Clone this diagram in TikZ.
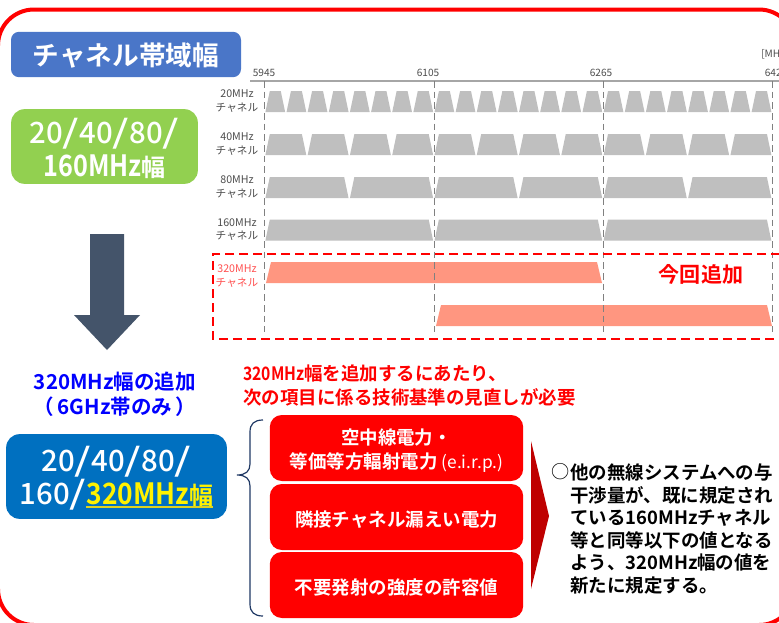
\documentclass[tikz,border=0pt]{standalone}
\usepackage{fontspec}
\setmainfont{Noto Sans CJK JP}[BoldFont={Noto Sans CJK JP Bold}]
\newfontfamily\medfont{Noto Sans CJK JP Medium}
\newfontfamily\heavyfont{Noto Sans CJK JP Bold}
\usetikzlibrary{calc}
\definecolor{framered}{HTML}{FF0000}
\definecolor{titleblue}{HTML}{4A76C8}
\definecolor{bandgreen}{HTML}{92D050}
\definecolor{bandblue}{HTML}{0070C0}
\definecolor{arrowslate}{HTML}{44546A}
\definecolor{changray}{HTML}{BFBFBF}
\definecolor{chanpink}{HTML}{FF9680}
\definecolor{bracenavy}{HTML}{1F3864}
\definecolor{newlabel}{HTML}{FF5050}
\newcommand{\bslash}{\scalebox{1.45}[1.08]{/}}
\newcommand{\nrw}[1]{\scalebox{0.85}[1]{#1}}
\newcommand{\topfix}[1]{\rule{0pt}{#1}}
\newcommand{\kanjiwide}{\heavyfont\fontsize{18pt}{25pt}\selectfont 幅}
\tikzset{
    labelsmall/.style={font=\fontsize{8pt}{10.2pt}\selectfont, text=black!70, align=center, inner sep=0pt},
    freqlabel/.style={font=\fontsize{7.6pt}{9pt}\selectfont, text=black!70, inner sep=0pt},
    bandbox/.style={rounded corners=10pt, align=center, text=white, inner sep=0pt},
    itembox/.style={fill=red, draw=none, rounded corners=9pt, minimum width=190pt, align=center, text=white, inner sep=0pt,
        font=\bfseries\fontsize{13.85pt}{18pt}\selectfont},
    headline/.style={font=\bfseries\fontsize{13.85pt}{17pt}\selectfont, text=red, align=left, inner sep=0pt},
}
\begin{document}
\begin{tikzpicture}[x=0.75pt,y=-0.75pt]
    \useasboundingbox (0,0) rectangle (779,622);
    \draw[framered, line width=3pt, rounded corners=27pt] (-2,9.5) rectangle (795,625);

    % left column
    \node[bandbox, fill=titleblue, minimum width=172.5pt, minimum height=34pt, rounded corners=6pt,
        font=\bfseries\fontsize{20pt}{24pt}\selectfont] (title) at (126,54.5) {\topfix{19pt}チャネル帯域幅};
    \node[bandbox, fill=bandgreen, minimum width=140pt, minimum height=56pt,
        font=\medfont\fontsize{22pt}{25pt}\selectfont] (oldband) at (104.5,146.5) {\topfix{22pt}20\bslash 40\bslash 80\bslash\\{\heavyfont\scalebox{0.86}[1]{160MHz}{\kanjiwide}}};
    \fill[arrowslate] (90,234) -- (124,234) -- (124,315) -- (140,315) -- (107,350) -- (74,315) -- (90,315) -- cycle;
    \node[font=\bfseries\fontsize{15.4pt}{18.8pt}\selectfont, text=blue, align=center, inner sep=0pt] (addtext) at (115,394.5) {320MHz幅の追加\\（\,6GHz帯のみ\,）};
    \node[bandbox, fill=bandblue, minimum width=165.5pt, minimum height=63.5pt,
        font=\medfont\fontsize{22pt}{25pt}\selectfont] (newband) at (116.5,476.5) {\topfix{22pt}20\bslash 40\bslash 80\bslash\\160\bslash{\heavyfont\color{yellow}\scalebox{0.9}[1]{320MHz}{\kanjiwide}}};
    \draw[yellow!85!black, line width=0.9pt] (86,507) -- (213,507);

    % chart
    \draw[black!35, line width=0.8pt] (250,81) -- (779,81);
    \foreach \x/\n in {264/5945, 428/6105, 601/6265, 776/6425} {
        \node[freqlabel] (f\n) at (\x,72.5) {\n};
    }
    \node[freqlabel, anchor=west] (unit) at (761,54) {[MHz]};
    \foreach \y/\w/\n/\t in {91/21.14/24/20, 134/42.28/12/40, 177/84.55/6/80, 219.5/169.1/3/160} {
        \foreach \i in {1,...,\n} {
            \fill[changray] ({265.4+(\i-1)*\w},\y+21) -- ({269.8+(\i-1)*\w},\y) -- ({265.4+\i*\w-5.8},\y) -- ({265.4+\i*\w-1.4},\y+21) -- cycle;
        }
        \node[labelsmall] (row\t) at (237,\y+10) {\t MHz\\チャネル};
    }
    \fill[chanpink] (266,283) -- (271,262) -- (597,262) -- (602,283) -- cycle;
    \fill[chanpink] (436,326) -- (441,305) -- (767,305) -- (772,326) -- cycle;
    \node[labelsmall, text=newlabel] (row320) at (237,276) {320MHz\\チャネル};
    \foreach \x in {264.5,434,603,772.5} {
        \draw[black!50, line width=0.75pt, dash pattern=on 5pt off 3pt] (\x,81) -- (\x,332);
    }
    \draw[red, line width=1.5pt, dash pattern=on 7pt off 3.5pt] (780,254) -- (213,254) -- (213,339) -- (780,339);
    \node[font=\bfseries\fontsize{15.8pt}{18pt}\selectfont, text=red, inner sep=0pt] (added) at (701,274) {今回追加};

    % review items
    \node[headline, anchor=west] (head1) at (243,373.5) {\nrw{320MHz}幅を追加するにあたり、};
    \node[headline, anchor=west] (head2) at (243,397) {次の項目に係る技術基準の見直しが必要};
    \draw[bracenavy, line width=0.9pt] (263,420) .. controls (254,420) and (250,424) .. (250,432) -- (250,464)
        .. controls (250,471) and (246,475) .. (237,475) .. controls (246,475) and (250,479) .. (250,486) -- (250,604)
        .. controls (250,612) and (254,616) .. (263,616);
    \node[itembox, minimum height=49.5pt] (item1) at (396.5,448) {\topfix{15.5pt}空中線電力・\\等価等方輻射電力 {\mdseries\fontsize{13pt}{18pt}\selectfont (e.i.r.p.)}};
    \node[itembox, minimum height=49.5pt] (item2) at (396.5,517) {\topfix{15.5pt}隣接チャネル漏えい電力};
    \node[itembox, minimum height=49.5pt] (item3) at (396.5,585) {\topfix{15.5pt}不要発射の強度の許容値};
    \fill[red!75!black] (531,441) -- (549,516) -- (531,589) -- cycle;
    \node[font=\fontsize{13.6pt}{16pt}\selectfont, inner sep=0pt] (circ) at (561,472) {○};
    \node[font=\bfseries\fontsize{13.85pt}{16.9pt}\selectfont, align=left, anchor=north west, inner sep=0pt] (note) at (570,463.5) {他の無線システムへの与\\干渉量が、既に規定され\\ている160MHzチャネル\\等と同等以下の値となる\\よう、320MHz幅の値を\\新たに規定する。};
\end{tikzpicture}
\end{document}
